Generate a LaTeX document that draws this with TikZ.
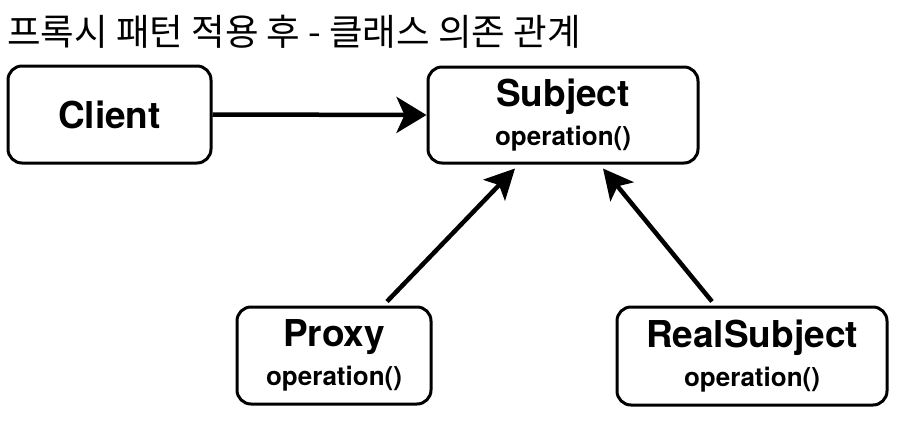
\documentclass[tikz,border=0pt]{standalone}
\usepackage{fontspec}
\setmainfont{TeX Gyre Heros}
\newfontfamily\krfont{Noto Sans CJK KR}
\usetikzlibrary{arrows.meta,calc}
\tikzset{
  box/.style={draw=black, line width=3pt, rounded corners=14pt, fill=white,
    align=center, inner sep=0pt, font=\bfseries},
  arr/.style={draw=black, line width=4.5pt,
    -{Stealth[length=30pt,width=30pt,inset=7pt]}},
  bigarr/.style={draw=black, line width=4.5pt,
    -{Stealth[length=30pt,width=36pt,inset=8pt]}},
}
\newcommand{\bigtxt}{\fontsize{37}{38}\selectfont}
\newcommand{\optxt}{\fontsize{26}{30}\selectfont}
\begin{document}
\begin{tikzpicture}[x=1pt,y=-1pt]
\useasboundingbox[fill=white] (0,0) rectangle (924,423);
\node[anchor=base west, inner sep=0pt, font=\krfont\fontsize{36.5}{38}\selectfont] (title) at (7,45) {프록시 패턴 적용 후 - 클래스 의존 관계};
\node[box, minimum width=203pt, minimum height=97pt] (client) at (109.5,114.5) {\bigtxt Client};
\node[box, minimum width=270pt, minimum height=96pt] (subject) at (563,115) {\bigtxt Subject\\[11pt]\optxt operation()};
\node[box, minimum width=194pt, minimum height=97pt] (proxy) at (334,355.5) {\bigtxt Proxy\\[11pt]\optxt operation()};
\node[box, minimum width=270pt, minimum height=98pt] (real) at (752,356) {\bigtxt RealSubject\\[11pt]\optxt operation()};
\draw[bigarr] (client.east) -- (subject.west);
\draw[arr] ($(proxy.north)+(53,-4)$) -- ($(subject.south)+(-48,4)$);
\draw[arr] ($(real.north)+(-40,-4)$) -- ($(subject.south)+(40,4)$);
\end{tikzpicture}
\end{document}
